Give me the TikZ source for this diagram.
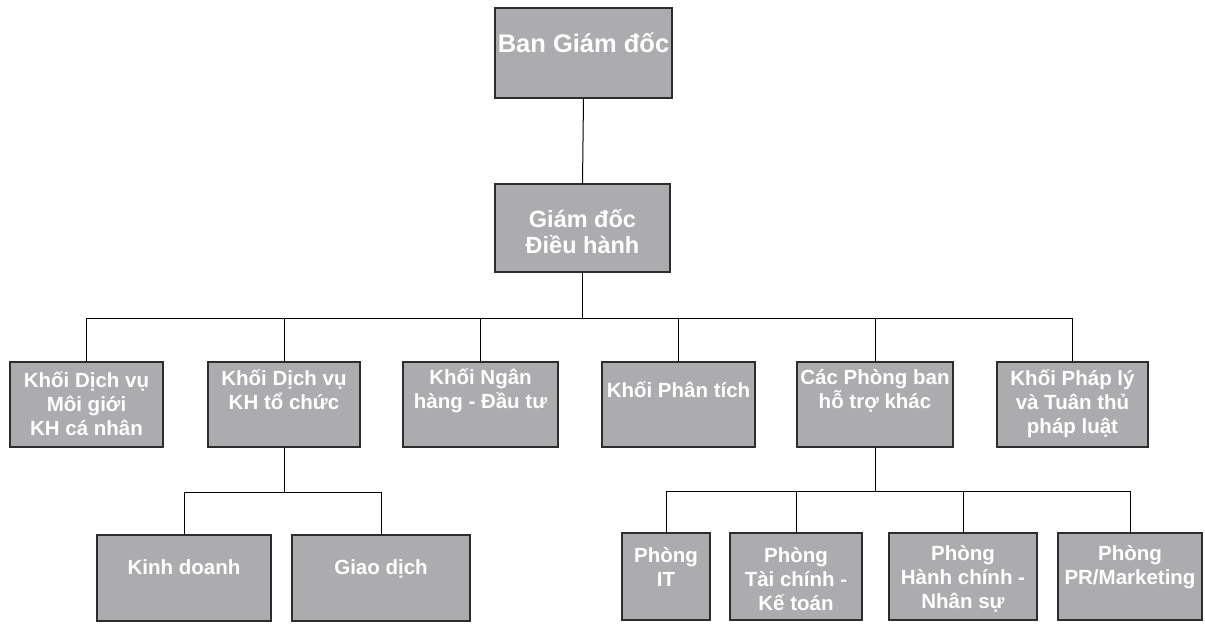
\documentclass[tikz,border=0pt]{standalone}
\usepackage{fontspec}
\setmainfont{Liberation Sans}
\definecolor{boxgray}{RGB}{172,172,175}
\definecolor{bordergray}{RGB}{45,45,45}
\tikzset{
  box/.style={draw=bordergray, line width=1.6pt, fill=boxgray, inner sep=0pt},
  lbl/.style={text=white, align=center, inner sep=0pt, font=\bfseries\fontsize{20.5}{24}\selectfont},
  conn/.style={draw=black, line width=1pt}
}
\begin{document}
\begin{tikzpicture}[x=1pt,y=-1pt]
\useasboundingbox (0,0) rectangle (1205,624);
% boxes
\node[box, minimum width=177pt, minimum height=90pt] (top) at (583.5,53) {};
\node[box, minimum width=175pt, minimum height=88pt] (gd) at (582.5,228) {};
\node[box, minimum width=153pt, minimum height=85pt] (b1) at (86.5,404.5) {};
\node[box, minimum width=152pt, minimum height=85pt] (b2) at (284,404.5) {};
\node[box, minimum width=155pt, minimum height=85pt] (b3) at (480.5,404.5) {};
\node[box, minimum width=153pt, minimum height=85pt] (b4) at (678.5,404.5) {};
\node[box, minimum width=156pt, minimum height=85pt] (b5) at (875,404.5) {};
\node[box, minimum width=151pt, minimum height=85pt] (b6) at (1072.5,404.5) {};
\node[box, minimum width=174pt, minimum height=86pt] (k1) at (184,578) {};
\node[box, minimum width=178pt, minimum height=86pt] (k2) at (381,578) {};
\node[box, minimum width=88pt, minimum height=87pt] (p1) at (666,576.5) {};
\node[box, minimum width=132pt, minimum height=87pt] (p2) at (796,576.5) {};
\node[box, minimum width=148pt, minimum height=87pt] (p3) at (963,576.5) {};
\node[box, minimum width=144pt, minimum height=87pt] (p4) at (1130,576.5) {};
% labels
\node[lbl, font=\bfseries\fontsize{25.5}{30}\selectfont] (ttop) at (583.5,43) {Ban Giám đốc};
\node[lbl, font=\bfseries\fontsize{23.5}{26}\selectfont] (tgd) at (582.5,232) {Giám đốc\\Điều hành};
\node[lbl] (tb1) at (86.5,404) {Khối Dịch vụ\\Môi giới\\KH cá nhân};
\node[lbl] (tb2) at (284,390) {Khối Dịch vụ\\KH tổ chức};
\node[lbl] (tb3) at (480.5,391) {Khối Ngân\\hàng - Đầu tư};
\node[lbl] (tb4) at (678.5,393) {Khối Phân tích\strut};
\node[lbl] (tb5) at (875,391) {Các Phòng ban\\hỗ trợ khác};
\node[lbl] (tb6) at (1072.5,404) {Khối Pháp lý\\và Tuân thủ\\pháp luật};
\node[lbl] (tk1) at (184,570) {Kinh doanh\strut};
\node[lbl] (tk2) at (381,570) {Giao dịch\strut};
\node[lbl] (tp1) at (666,567) {Phòng\\IT};
\node[lbl] (tp2) at (796,579) {Phòng\\Tài chính -\\Kế toán};
\node[lbl] (tp3) at (963,579) {Phòng\\Hành chính -\\Nhân sự};
\node[lbl] (tp4) at (1130,567) {Phòng\\PR/Marketing};
% bar levels
\coordinate (bar1) at (0,318);
\coordinate (bar2) at (0,492);
\coordinate (bar3) at (0,491);
% connectors
\draw[conn] (top.south) -- (gd.north);
\foreach \b in {b1,b2,b3,b4,b5,b6}{
  \draw[conn] (gd.south) -- (gd.south |- bar1) -| (\b.north);
}
\foreach \b in {k1,k2}{
  \draw[conn] (b2.south) -- (b2.south |- bar2) -| (\b.north);
}
\foreach \b in {p1,p2,p3,p4}{
  \draw[conn] (b5.south) -- (b5.south |- bar3) -| (\b.north);
}
\end{tikzpicture}
\end{document}
